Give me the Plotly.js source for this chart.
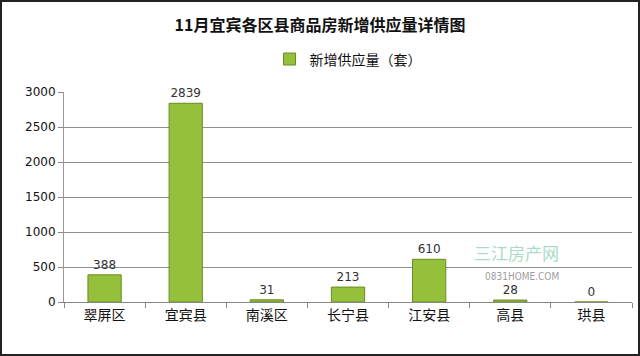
<!DOCTYPE html>
<html><head><meta charset="utf-8">
<script src="https://cdn.plot.ly/plotly-3.0.1.min.js"></script>
<style>
html,body{margin:0;padding:0;background:#fff;}
#wrap{position:relative;width:640px;height:356px;}
#chart{width:640px;height:356px;}
#frame{position:absolute;left:0;top:0;width:640px;height:356px;box-sizing:border-box;border:2px solid #222;pointer-events:none;}
</style></head>
<body>
<div id="wrap"><div id="chart"></div><div id="frame"></div></div>
<script>
const categories = ['翠屏区','宜宾县','南溪区','长宁县','江安县','高县','珙县'];
const supply = [388, 2839, 31, 213, 610, 28, 0];
const seriesName = '新增供应量（套）';
const yTicks = [0, 500, 1000, 1500, 2000, 2500, 3000];

const font = 'Noto Sans CJK SC, Noto Sans, sans-serif';

const trace = {
  type: 'bar',
  x: categories,
  y: supply,
  name: seriesName,
  width: 0.41,
  marker: {color: '#94c03c', line: {color: '#6a8c22', width: 1}},
  text: supply.map(String),
  textposition: 'outside',
  cliponaxis: false,
  textfont: {family: 'DejaVu Sans, sans-serif', size: 12, color: '#333'},
  hoverinfo: 'x+y'
};

const layout = {
  width: 640, height: 356,
  margin: {l: 64, r: 8, t: 92, b: 54},
  paper_bgcolor: '#ffffff',
  plot_bgcolor: '#ffffff',
  showlegend: true,
  title: {text: '<b>11月宜宾各区县商品房新增供应量详情图</b>', x: 0.5, xanchor: 'center', y: 0.93, yanchor: 'middle', font: {family: font, size: 16, color: '#111'}},
  legend: {orientation: 'h', x: 0.5, xanchor: 'center', y: 1.155, yanchor: 'middle', font: {family: font, size: 14, color: '#111'}, itemwidth: 30},
  xaxis: {
    type: 'category',
    tickson: 'boundaries',
    ticks: 'outside', ticklen: 5, tickcolor: '#888',
    showline: true, linecolor: '#888', linewidth: 1,
    showgrid: false,
    tickfont: {family: font, size: 14, color: '#111'}
  },
  yaxis: {
    range: [0, 3000],
    tickvals: yTicks,
    ticktext: yTicks.map(String),
    ticks: 'outside', ticklen: 5, tickcolor: '#888',
    showline: true, linecolor: '#999', linewidth: 1,
    showgrid: true, gridcolor: '#8f8f8f', gridwidth: 1,
    zeroline: false,
    tickfont: {family: 'DejaVu Sans, sans-serif', size: 12, color: '#111'}
  },
  annotations: [
    {xref: 'paper', yref: 'paper', x: 0.875, y: 0.165, text: '三江房产网', showarrow: false, font: {family: font, size: 17, color: 'rgba(90,190,140,0.55)'}},
    {xref: 'paper', yref: 'paper', x: 0.875, y: 0.085, text: '0831HOME.COM', showarrow: false, font: {family: 'DejaVu Sans Condensed, sans-serif', size: 10, color: 'rgba(110,110,110,0.7)'}}
  ]
};

Plotly.newPlot('chart', [trace], layout, {displayModeBar: false, staticPlot: true});
</script>
</body></html>
